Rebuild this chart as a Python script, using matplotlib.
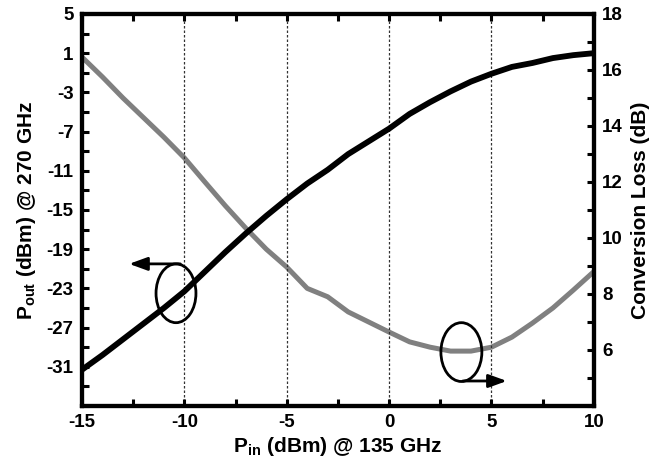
import logging

import matplotlib

matplotlib.use("Agg")
import matplotlib.pyplot as plt
from matplotlib.axes import Axes
from matplotlib.patches import Ellipse
from matplotlib.ticker import MultipleLocator

logger = logging.getLogger(__name__)
logging.basicConfig(level=logging.INFO)

# Input power sweep (dBm @ 135 GHz)
pin_dbm = [-15, -14, -13, -12, -11, -10, -9, -8, -7, -6, -5, -4, -3,
           -2, -1, 0, 1, 2, 3, 4, 5, 6, 7, 8, 9, 10]
# Output power (dBm @ 270 GHz), left axis
pout_dbm = [-31.3, -29.8, -28.2, -26.6, -25.0, -23.3, -21.3, -19.3, -17.4,
            -15.6, -13.9, -12.3, -10.9, -9.3, -8.0, -6.7, -5.2, -4.0, -2.9,
            -1.9, -1.1, -0.4, 0.0, 0.5, 0.8, 1.0]
# Conversion loss (dB), right axis
conversion_loss_db = [16.46, 15.75, 15.0, 14.3, 13.6, 12.86, 12.0, 11.15,
                      10.35, 9.6, 8.96, 8.2, 7.9, 7.36, 7.0, 6.64, 6.29, 6.1,
                      5.96, 5.96, 6.1, 6.46, 6.96, 7.5, 8.14, 8.8]

pin_ticks = [-15, -10, -5, 0, 5, 10]
pout_ticks = [5, 1, -3, -7, -11, -15, -19, -23, -27, -31]
loss_ticks = [6, 8, 10, 12, 14, 16, 18]
grid_positions = [-10, -5, 0, 5]

plt.rcParams["font.family"] = ["Liberation Sans", "DejaVu Sans"]
plt.rcParams["font.weight"] = "bold"
plt.rcParams["axes.labelweight"] = "bold"
plt.rcParams["axes.unicode_minus"] = False
plt.rcParams["mathtext.fontset"] = "custom"
plt.rcParams["mathtext.rm"] = "Liberation Sans:bold"
plt.rcParams["mathtext.it"] = "Liberation Sans:bold"
plt.rcParams["mathtext.bf"] = "Liberation Sans:bold"


def style_ticks(ax: Axes, **kwargs) -> None:
    """Inward ticks, same length for majors and minors."""
    for which in ("major", "minor"):
        ax.tick_params(which=which, direction="in", length=5, width=2.2,
                       labelsize=13.5, pad=6, **kwargs)


def add_marker(ax: Axes, center, width, height, start, tip) -> None:
    """Ellipse around a curve with an arrow pointing to its axis."""
    ax.add_patch(Ellipse(center, width, height, fill=False,
                         edgecolor="black", linewidth=2.0, zorder=5))
    ax.annotate("", xy=tip, xytext=start,
                arrowprops=dict(arrowstyle="-|>,head_length=0.55,head_width=0.2",
                                color="black", lw=2.0, mutation_scale=20,
                                shrinkA=0, shrinkB=0),
                zorder=5)


fig = plt.figure(figsize=(6.52, 4.66), dpi=100)
ax = fig.add_axes([0.1258, 0.1288, 0.785, 0.8412])
ax2 = ax.twinx()

# black curve drawn over the grey one
ax.set_zorder(ax2.get_zorder() + 1)
ax.patch.set_visible(False)

for x in grid_positions:
    ax.axvline(x, color="#333333", linestyle=(0, (2.0, 1.6)), linewidth=0.9,
               zorder=1)

ax2.plot(pin_dbm, conversion_loss_db, color="#808080", linewidth=3.6,
         solid_joinstyle="round")
ax.plot(pin_dbm, pout_dbm, color="black", linewidth=4.2,
        solid_joinstyle="round", zorder=3)

ax.set_xlim(-15, 10)
ax.set_ylim(-35, 5)
ax2.set_ylim(4, 18)

ax.set_xticks(pin_ticks)
ax.xaxis.set_minor_locator(MultipleLocator(2.5))
ax.set_yticks(pout_ticks)
ax.yaxis.set_minor_locator(MultipleLocator(2, offset=1))
ax2.set_yticks(loss_ticks)
ax2.yaxis.set_minor_locator(MultipleLocator(1))

style_ticks(ax, top=True, right=False, left=True, bottom=True)
style_ticks(ax2, left=False, right=True)

for a in (ax, ax2):
    for spine in a.spines.values():
        spine.set_linewidth(3.0)

ax.set_xlabel(r"P$_\mathregular{in}$ (dBm) @ 135 GHz", fontsize=15,
              labelpad=3)
ax.set_ylabel(r"P$_\mathregular{out}$ (dBm) @ 270 GHz", fontsize=15,
              labelpad=6)
ax2.set_ylabel("Conversion Loss (dB)", fontsize=15, labelpad=6)

# ellipse markers with arrows pointing to the matching axis
add_marker(ax, (-10.41, -23.5), 1.95, 6.0, (-10.2, -20.5), (-12.7, -20.5))
add_marker(ax, (3.53, -29.5), 2.0, 6.0, (3.6, -32.45), (5.75, -32.45))

fig.savefig("out.png", dpi=100)
logger.info("Plot saved to out.png")
plt.close(fig)
